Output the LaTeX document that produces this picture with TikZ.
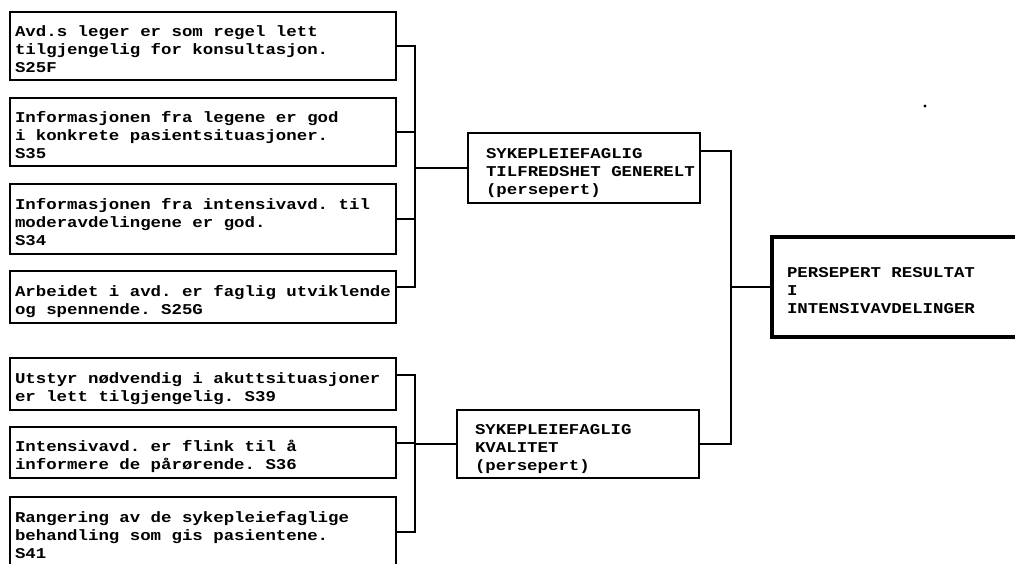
\documentclass[tikz,border=0pt]{standalone}
\usepackage{fontspec}
\newfontfamily\courb[FakeStretch=1.16]{Liberation Mono}
\begin{document}
\begin{tikzpicture}[x=1pt,y=-1pt,
  bx/.style={draw, line width=2.1pt, rectangle, anchor=north west, outer sep=0pt,
    inner xsep=0pt, inner ysep=0pt, align=left,
    font=\courb\bfseries\fontsize{15}{18}\selectfont,
    execute at begin node={\leftskip=#1\relax\spaceskip=10.44pt\relax\xspaceskip=10.44pt\relax\rule{0pt}{20pt}},
    execute at end node={\rule[-4pt]{0pt}{4pt}}},
  bx/.default=5pt,
  lbox/.style={bx, text width=386pt},
  wire/.style={line width=2pt, line cap=rect}]
\clip (0,0) rectangle (1015,563);
\fill[white] (0,0) rectangle (1015,563);
% left boxes
\node[lbox, minimum height=68pt] (b1) at (10,12) {Avd.s leger er som regel lett\\tilgjengelig for konsultasjon.\\S25F};
\node[lbox, minimum height=68pt] (b2) at (10,98) {Informasjonen fra legene er god\\i konkrete pasientsituasjoner.\\S35};
\node[lbox, minimum height=70pt] (b3) at (10,184) {Informasjonen fra intensivavd. til\\moderavdelingene er god.\\S34};
\node[lbox, minimum height=52pt] (b4) at (10,271) {Arbeidet i avd. er faglig utviklende\\og spennende. S25G};
\node[lbox, minimum height=52pt] (b5) at (10,358) {Utstyr nødvendig i akuttsituasjoner\\er lett tilgjengelig. S39};
\node[lbox, minimum height=51pt] (b6) at (10,427) {Intensivavd. er flink til å\\informere de pårørende. S36};
\node[lbox, minimum height=70pt] (b7) at (10,497) {Rangering av de sykepleiefaglige\\behandling som gis pasientene.\\S41};
% middle boxes
\node[bx=18pt, text width=232pt, minimum height=70pt] (m1) at (468,133) {SYKEPLEIEFAGLIG\\TILFREDSHET GENERELT\\(persepert)};
\node[bx=18pt, text width=242pt, minimum height=68pt] (m2) at (457,410) {SYKEPLEIEFAGLIG\\KVALITET\\(persepert)};
% result box
\node[bx=15pt, line width=3.4pt, text width=268pt, minimum height=100pt] (res) at (772,237) {PERSEPERT RESULTAT\\I\\INTENSIVAVDELINGER};
% bus coordinates
\coordinate (bus1) at (415,0);
\coordinate (bus2) at (731,0);
% upper group
\draw[wire] (b1.east) -- (b1.east -| bus1) |- ([yshift=-16pt]b4.north east);
\draw[wire] (b2.east) -- (b2.east -| bus1);
\draw[wire] (b3.east) -- (b3.east -| bus1);
\draw[wire] (m1.west) -- (m1.west -| bus1);
% lower group
\draw[wire] ([yshift=-17pt]b5.north east) -- ([yshift=-17pt]b5.north east -| bus1) |- (b7.east);
\draw[wire] ([yshift=-16pt]b6.north east) -- ([yshift=-16pt]b6.north east -| bus1);
\draw[wire] (m2.west) -- (m2.west -| bus1);
% right side
\draw[wire] ([yshift=-18pt]m1.north east) -| (bus2 |- m2.east) -- (m2.east);
\draw[wire] (res.west) -- (res.west -| bus2);
% speck
\fill (925,106) circle (1.6pt);
\end{tikzpicture}
\end{document}
